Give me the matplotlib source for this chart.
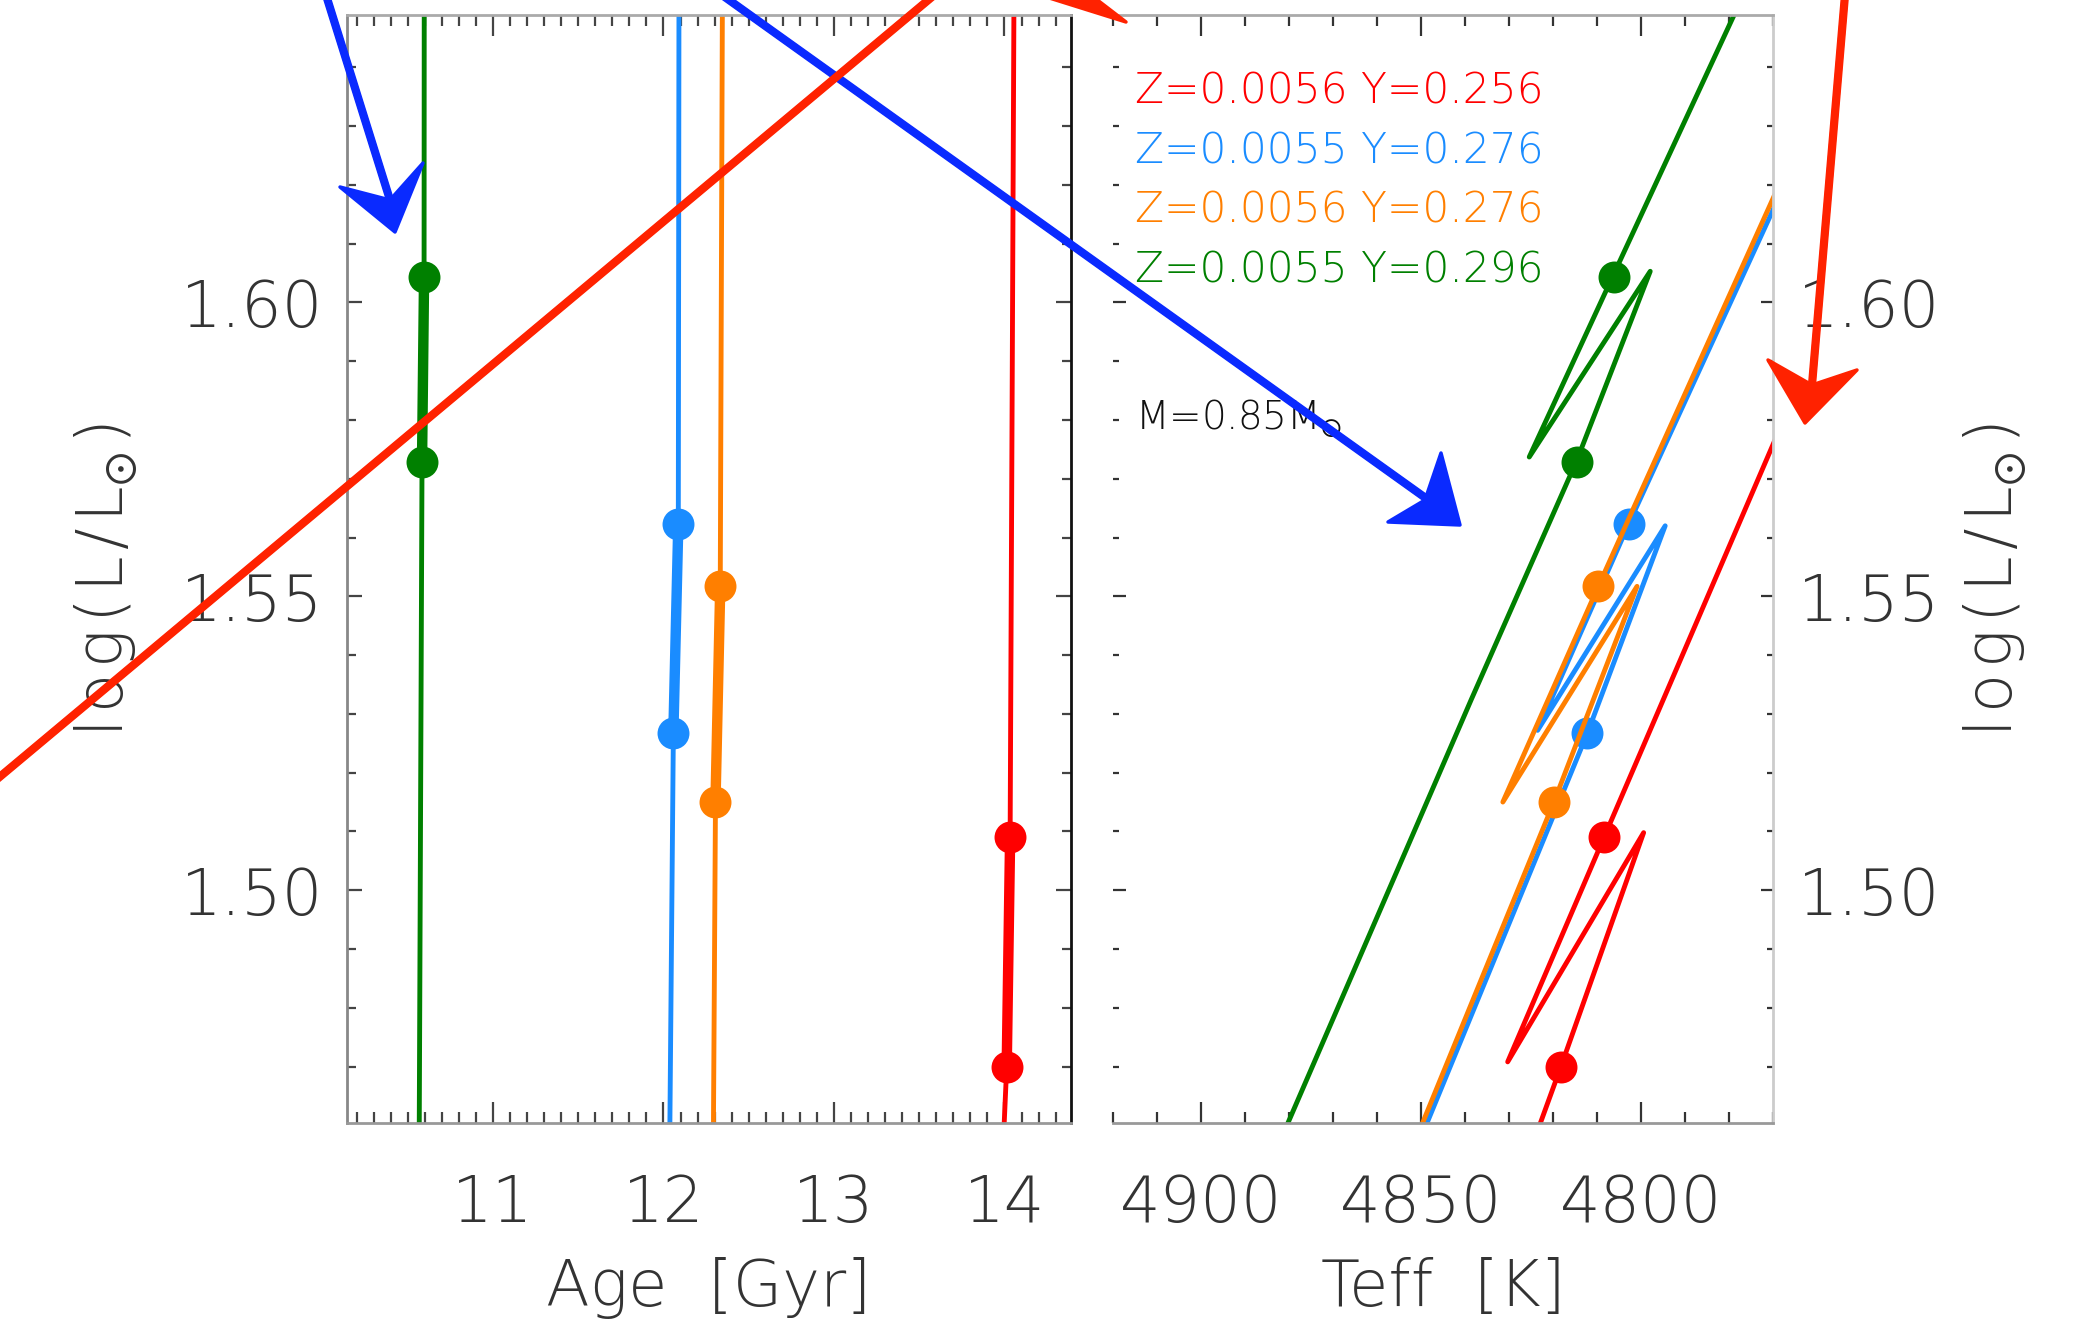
import matplotlib
matplotlib.use("Agg")
import numpy as np
import matplotlib.pyplot as plt
from matplotlib.lines import Line2D
from matplotlib.patches import Polygon
from matplotlib.ticker import MultipleLocator

# ---------------- data ----------------
labels = ["Z=0.0056 Y=0.256", "Z=0.0055 Y=0.276",
          "Z=0.0056 Y=0.276", "Z=0.0055 Y=0.296"]
colors = ["#ff0000", "#1a8cff", "#ff7f00", "#008000"]

# left panel: age [Gyr] along each track (frame bottom, lower dot, upper dot, frame top)
age_red = [13.990, 14.013, 14.033, 14.056]
age_blue = [12.036, 12.058, 12.087, 12.091]
age_orange = [12.292, 12.305, 12.333, 12.346]
age_green = [10.567, 10.584, 10.596, 10.597]
lum_red = [1.455, 1.4700, 1.5091, 1.655]
lum_blue = [1.455, 1.5267, 1.5623, 1.655]
lum_orange = [1.455, 1.5150, 1.5517, 1.655]
lum_green = [1.455, 1.5728, 1.6044, 1.655]

# right panel: HR tracks (Teff [K], log L)
teff_red = [4825.0, 4818.2, 4799.4, 4830.3, 4808.4, 4768.0]
logl_red = [1.4560, 1.4700, 1.5098, 1.4708, 1.5090, 1.5793]
teff_blue = [4850.5, 4812.2, 4794.5, 4823.5, 4802.8, 4768.0]
logl_blue = [1.4570, 1.5267, 1.5620, 1.5272, 1.5623, 1.6190]
teff_orange = [4851.5, 4819.8, 4800.9, 4831.4, 4809.7, 4768.0]
logl_orange = [1.4570, 1.5150, 1.5517, 1.5150, 1.5517, 1.6210]
teff_green = [4882.5, 4838.6, 4814.6, 4797.9, 4825.4, 4806.2, 4776.0]
logl_green = [1.4565, 1.5324, 1.5731, 1.6053, 1.5737, 1.6048, 1.6535]

# dots on the HR tracks (lower, upper)
dot_teff_red = [4818.2, 4808.4]
dot_teff_blue = [4812.2, 4802.8]
dot_teff_orange = [4819.8, 4809.7]
dot_teff_green = [4814.6, 4806.2]

mass_label = r"M=0.85M$_{\odot}$"
HS = "\u200a"  # hair space, the original font is widely spaced
ylab = HS.join("log(L/L") + r"$_{\odot}$" + HS + ")"

ages = [age_red, age_blue, age_orange, age_green]
lums = [lum_red, lum_blue, lum_orange, lum_green]
teffs = [teff_red, teff_blue, teff_orange, teff_green]
logls = [logl_red, logl_blue, logl_orange, logl_green]
dot_teffs = [dot_teff_red, dot_teff_blue, dot_teff_orange, dot_teff_green]

# ---------------- style ----------------
plt.rcParams["font.family"] = ["DejaVu Sans"]
plt.rcParams["font.weight"] = 200
plt.rcParams["axes.labelweight"] = 200
plt.rcParams["mathtext.fontset"] = "dejavusans"

W, H = 2086, 1332
TXT = "#333333"
FS = 46


def fpt(x, y):
    # pixel position (from the top left) -> figure fraction
    return x / W, 1 - y / H


fig = plt.figure(figsize=(W / 100, H / 100), dpi=100)
ax1 = fig.add_axes([347 / W, 1 - 1123 / H, 724 / W, 1108 / H])
ax2 = fig.add_axes([1113 / W, 1 - 1123 / H, 660 / W, 1108 / H], sharey=ax1)

# ---- left panel: age vs luminosity ----
for a, l, c in zip(ages, lums, colors):
    ax1.plot(a, l, color=c, lw=3.5, solid_capstyle="butt")
    ax1.plot(a[1:3], l[1:3], color=c, lw=7.5, solid_capstyle="butt")
    ax1.plot(a[1:3], l[1:3], "o", color=c, ms=23, mec="none")

ax1.set_xlim(10.144, 14.39)
ax1.set_ylim(1.4604, 1.6489)
ax1.xaxis.set_major_locator(MultipleLocator(1))
ax1.xaxis.set_minor_locator(MultipleLocator(0.1))
ax1.yaxis.set_major_locator(MultipleLocator(0.05))
ax1.yaxis.set_minor_locator(MultipleLocator(0.01))
ax1.yaxis.set_major_formatter(plt.FormatStrFormatter("%.2f"))

ax1.tick_params(which="both", direction="in", top=True, right=True,
                colors="#444444", labelcolor=TXT, labelsize=FS, width=1.6)
ax1.tick_params(axis="x", which="major", length=15, pad=36)
ax1.tick_params(axis="x", which="minor", length=8)
ax1.tick_params(axis="y", which="major", length=11, pad=17)
ax1.tick_params(axis="y", which="minor", length=6.5)

ax1.spines["left"].set_color("#888888")
ax1.spines["top"].set_color("#aaaaaa")
ax1.spines["bottom"].set_color("#999999")
ax1.spines["right"].set_color("#111111")
for s in ax1.spines.values():
    s.set_linewidth(2)

ax1.set_xlabel("Age  [Gyr]", fontsize=FS, color=TXT, fontweight=200)
ax1.xaxis.set_label_coords(0.5, -0.121)

# ---- right panel: HR diagram ----
for t, l, dt, a, c in zip(teffs, logls, dot_teffs, lums, colors):
    ax2.plot(t, l, color=c, lw=3.5)
    ax2.plot(dt, a[1:3], "o", color=c, ms=23, mec="none")

ax2.set_xlim(4920, 4770)
ax2.xaxis.set_major_locator(MultipleLocator(50))
ax2.xaxis.set_minor_locator(MultipleLocator(10))

ax2.tick_params(which="both", direction="in", top=True, left=True, right=True,
                labelleft=False, labelright=True,
                colors="#333333", labelcolor=TXT, labelsize=FS, width=1.6)
ax2.tick_params(axis="x", which="major", length=15, pad=36)
ax2.tick_params(axis="x", which="minor", length=8)
ax2.tick_params(axis="y", which="major", length=9, pad=18)
ax2.tick_params(axis="y", which="minor", length=4)

ax2.spines["left"].set_visible(False)
ax2.spines["top"].set_color("#aaaaaa")
ax2.spines["bottom"].set_color("#999999")
ax2.spines["right"].set_color("#cccccc")
for s in ax2.spines.values():
    s.set_linewidth(2)

ax2.set_xlabel("Teff  [K]", fontsize=FS, color=TXT, fontweight=200)
ax2.xaxis.set_label_coords(0.5, -0.121)

# legend as coloured text
for i, (lab, c) in enumerate(zip(labels, colors)):
    ax2.text(0.033, 0.920 - i * 0.0537, lab, color=c, fontsize=30.5,
             transform=ax2.transAxes, va="baseline")
ax2.text(0.033, 0.6255, mass_label, color="#111111", fontsize=28,
         transform=ax2.transAxes, va="baseline")

# y labels on both sides
x, y = fpt(106, 580)
fig.text(x, y, ylab, rotation=90, ha="center", va="center",
         fontsize=FS, color=TXT)
x, y = fpt(1995, 580)
fig.text(x, y, ylab, rotation=90, ha="center", va="center",
         fontsize=FS, color=TXT)


# ---- hand drawn arrows over the figure ----
def sketch_arrow(shaft, head, color):
    p0 = np.array(shaft[0], float)
    p1 = np.array(shaft[1], float)
    d = p1 - p0
    n = np.array([-d[1], d[0]]) / np.hypot(*d)
    # a few overlapping strokes, like a pen drawn several times
    for off, lw in [(0.0, 5.0), (3.0, 1.6), (-3.0, 1.6), (1.5, 1.0)]:
        a, b = p0 + off * n, p1 + off * n
        xs, ys = zip(fpt(*a), fpt(*b))
        fig.add_artist(Line2D(xs, ys, transform=fig.transFigure, color=color,
                              lw=lw, solid_capstyle="round", zorder=10))
    pts = [fpt(*p) for p in head]
    fig.add_artist(Polygon(pts, closed=True, transform=fig.transFigure,
                           facecolor=color, edgecolor=color, lw=2.5,
                           joinstyle="round", zorder=10))


blue_arrow = "#0a2aff"
red_arrow = "#ff2200"
sketch_arrow([(326, -5), (390, 200)],
             [(340, 187), (395, 232), (423, 163), (390, 200)], blue_arrow)
sketch_arrow([(722, -5), (1427, 499)],
             [(1388, 522), (1460, 525), (1441, 453), (1425, 500)], blue_arrow)
sketch_arrow([(-10, 785), (1000, -60)],
             [(930, -80), (1010, -67), (1126, 22), (960, -30)], red_arrow)
sketch_arrow([(1845, -5), (1812, 385)],
             [(1768, 360), (1805, 423), (1857, 370), (1812, 385)], red_arrow)

fig.savefig("out.png", dpi=100)
